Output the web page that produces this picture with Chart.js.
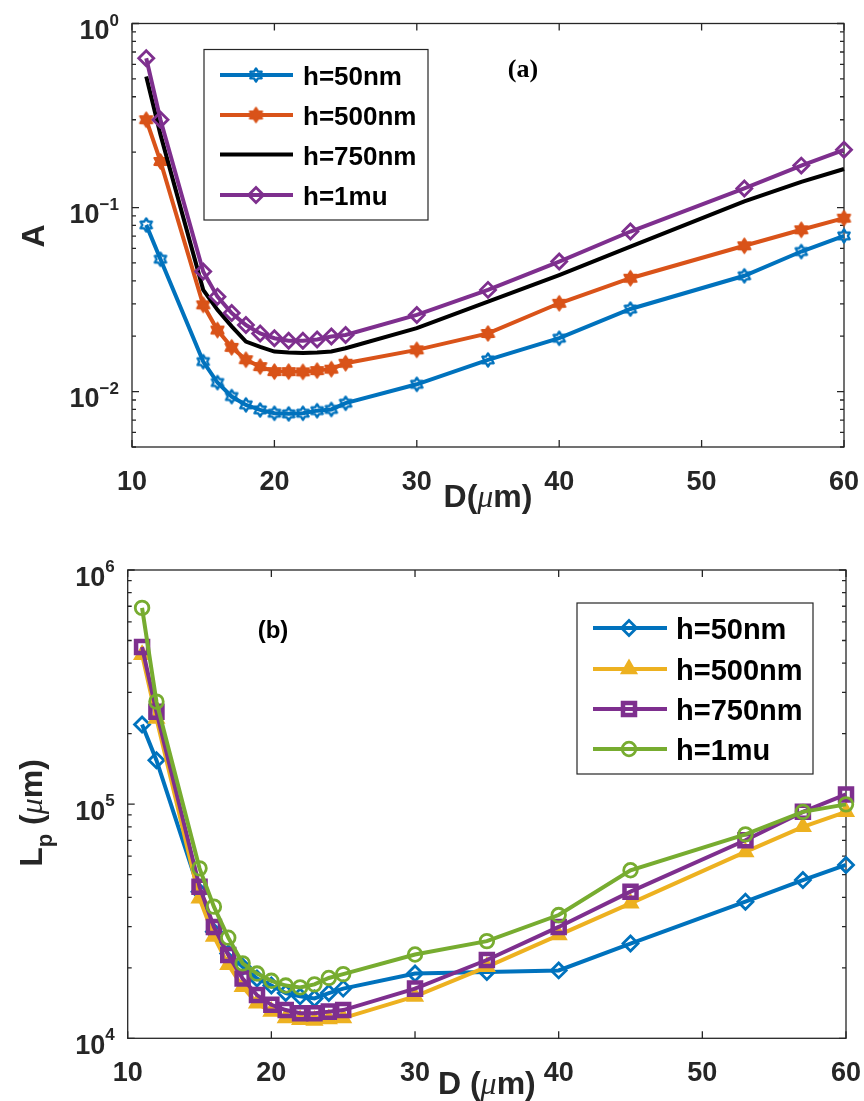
<!DOCTYPE html>
<html>
<head>
<meta charset="utf-8">
<script src="https://cdn.jsdelivr.net/npm/chart.js"></script>
<style>
  html, body { margin: 0; padding: 0; background: #ffffff; }
  #wrap { position: relative; width: 864px; height: 1101px; overflow: hidden; background: #ffffff; }
  canvas { position: absolute; left: 0; }
  #chartA { top: 0; }
  #chartB { top: 545px; }
</style>
</head>
<body>
<div id="wrap">
  <canvas id="chartA" width="864" height="545" style="width:864px;height:545px"></canvas>
  <canvas id="chartB" width="864" height="556" style="width:864px;height:556px"></canvas>
</div>
<script>
// Fibre diameter D (µm), shared by both panels
const diameters = [11, 12, 15, 16, 17, 18, 19, 20, 21, 22, 23, 24, 25, 30, 35, 40, 45, 53, 57, 60];
const xTickValues = [10, 20, 30, 40, 50, 60];

// Panel (a): A versus D
const aLabels = ['h=50nm', 'h=500nm', 'h=750nm', 'h=1mu'];
const aH50   = [0.0805, 0.0524, 0.01456, 0.0112, 0.0094, 0.00847, 0.00795, 0.00763, 0.00757, 0.00763, 0.00788, 0.0080, 0.00865, 0.01096, 0.01486, 0.0195, 0.0281, 0.0426, 0.0577, 0.0702];
const aH500  = [0.300, 0.178, 0.0296, 0.0216, 0.0174, 0.0149, 0.01367, 0.01284, 0.01284, 0.0128, 0.0130, 0.01324, 0.01426, 0.01686, 0.0207, 0.0302, 0.0413, 0.062, 0.0757, 0.0876];
const aH750  = [0.515, 0.249, 0.0357, 0.0278, 0.0226, 0.0187, 0.0175, 0.0165, 0.0163, 0.0162, 0.0163, 0.0165, 0.0172, 0.0221, 0.0308, 0.043, 0.0614, 0.108, 0.138, 0.162];
const aH1000 = [0.648, 0.30, 0.0449, 0.0328, 0.0267, 0.0230, 0.0207, 0.0195, 0.0189, 0.0189, 0.0192, 0.0199, 0.0203, 0.0261, 0.0357, 0.0509, 0.0741, 0.127, 0.169, 0.206];
const aYExponents = [-2, -1, 0];

// Panel (b): Lp (µm) versus D
const bLabels = ['h=50nm', 'h=500nm', 'h=750nm', 'h=1mu'];
const bH50   = [2.19e5, 1.54e5, 4.23e4, 2.85e4, 2.30e4, 2.02e4, 1.80e4, 1.68e4, 1.56e4, 1.51e4, 1.48e4, 1.56e4, 1.63e4, 1.89e4, 1.92e4, 1.95e4, 2.54e4, 3.83e4, 4.74e4, 5.50e4];
const bH500  = [4.35e5, 2.32e5, 3.96e4, 2.72e4, 2.06e4, 1.66e4, 1.41e4, 1.30e4, 1.22e4, 1.20e4, 1.19e4, 1.21e4, 1.22e4, 1.51e4, 2.02e4, 2.76e4, 3.77e4, 6.25e4, 8.00e4, 9.27e4];
const bH750  = [4.69e5, 2.48e5, 4.44e4, 2.99e4, 2.27e4, 1.80e4, 1.53e4, 1.39e4, 1.32e4, 1.28e4, 1.28e4, 1.30e4, 1.32e4, 1.63e4, 2.16e4, 2.99e4, 4.23e4, 7.01e4, 9.27e4, 1.10e5];
const bH1000 = [6.89e5, 2.74e5, 5.32e4, 3.65e4, 2.69e4, 2.09e4, 1.89e4, 1.76e4, 1.68e4, 1.65e4, 1.70e4, 1.81e4, 1.88e4, 2.28e4, 2.60e4, 3.36e4, 5.22e4, 7.43e4, 9.27e4, 9.98e4];
const bYExponents = [4, 5, 6];

// ---------------------------------------------------------------
const SANS = '"Liberation Sans", Arial, Helvetica, sans-serif';
const SERIF = '"Liberation Serif", "Times New Roman", serif';
const AXIS_COLOR = '#262626';
const C_BLUE = '#0072BD', C_ORANGE = '#D95319', C_YELLOW = '#EDB120',
      C_PURPLE = '#7E2F8E', C_GREEN = '#77AC30', C_BLACK = '#000000';

function pairs(ys) { return diameters.map((d, i) => ({ x: d, y: ys[i] })); }

// six-pointed star marker drawn into a small canvas
function hexagram(color, r, filled, lw) {
  const s = Math.ceil(2 * r + lw + 2);
  const c = document.createElement('canvas');
  c.width = s; c.height = s;
  const g = c.getContext('2d');
  const cx = s / 2;
  g.beginPath();
  for (let i = 0; i < 12; i++) {
    const ang = -Math.PI / 2 + i * Math.PI / 6;
    const rr = (i % 2 === 0) ? r : r * 0.6;
    g.lineTo(cx + rr * Math.cos(ang), cx + rr * Math.sin(ang));
  }
  g.closePath();
  g.lineJoin = 'round';
  if (filled) { g.fillStyle = color; g.fill(); }
  g.lineWidth = lw; g.strokeStyle = color; g.stroke();
  return c;
}

function series(label, ys, color, marker, order) {
  return Object.assign({
    label: label,
    data: pairs(ys),
    borderColor: color,
    backgroundColor: 'rgba(0,0,0,0)',
    borderWidth: 4,
    tension: 0,
    pointBorderColor: color,
    pointBackgroundColor: 'rgba(0,0,0,0)',
    clip: false,
    order: order
  }, marker);
}

const mkA = [
  { pointStyle: hexagram(C_BLUE, 6.5, false, 2.4), pointRadius: 6 },
  { pointStyle: hexagram(C_ORANGE, 7, true, 2.2), pointRadius: 6 },
  { pointRadius: 0, pointStyle: false },
  { pointStyle: 'rectRot', pointRadius: 7.5, pointBorderWidth: 2.8 }
];
const mkB = [
  { pointStyle: 'rectRot', pointRadius: 7.5, pointBorderWidth: 2.8 },
  { pointStyle: 'triangle', pointRadius: 7.5, pointBorderWidth: 3, pointBackgroundColor: C_YELLOW },
  { pointStyle: 'rect', pointRadius: 8.5, pointBorderWidth: 4.5 },
  { pointStyle: 'circle', pointRadius: 6.8, pointBorderWidth: 2.8 }
];

// ---- drawing helpers -------------------------------------------------
function drawRuns(ctx, runs, cx, baseY) {
  // runs: [{t, font, dy}] laid out left to right, centred on cx
  let total = 0;
  runs.forEach(r => { ctx.font = r.font; r.w = ctx.measureText(r.t).width; total += r.w; });
  let x = cx - total / 2;
  ctx.textAlign = 'left';
  ctx.textBaseline = 'alphabetic';
  runs.forEach(r => { ctx.font = r.font; ctx.fillText(r.t, x, baseY + (r.dy || 0)); x += r.w; });
}

function drawMarker(ctx, mk, color, x, y) {
  if (!mk || mk.pointStyle === false || !mk.pointRadius) return;
  ctx.save();
  ctx.strokeStyle = color;
  ctx.fillStyle = mk.pointBackgroundColor || 'rgba(0,0,0,0)';
  ctx.lineWidth = mk.pointBorderWidth || 1;
  if (Chart.helpers && Chart.helpers.drawPoint) {
    Chart.helpers.drawPoint(ctx, { pointStyle: mk.pointStyle, rotation: 0, radius: mk.pointRadius, borderWidth: ctx.lineWidth }, x, y);
  } else if (mk.pointStyle instanceof HTMLCanvasElement) {
    ctx.drawImage(mk.pointStyle, x - mk.pointStyle.width / 2, y - mk.pointStyle.height / 2);
  }
  ctx.restore();
}

function framePlugin(spec) {
  return {
    id: 'frame' + spec.id,
    beforeDatasetsDraw(chart) {
      const ctx = chart.ctx, a = chart.chartArea;
      const xs = chart.scales.x, ys = chart.scales.y;
      ctx.save();
      ctx.strokeStyle = AXIS_COLOR;
      ctx.lineWidth = 1.3;
      ctx.strokeRect(a.left, a.top, a.right - a.left, a.bottom - a.top);
      ctx.beginPath();
      // x ticks, inward on bottom and top
      xTickValues.forEach(v => {
        const px = xs.getPixelForValue(v);
        ctx.moveTo(px, a.bottom); ctx.lineTo(px, a.bottom - 7);
        ctx.moveTo(px, a.top); ctx.lineTo(px, a.top + 7);
      });
      // y ticks, decades long and intermediate values short, both sides
      const e0 = Math.floor(Math.log10(ys.min)), e1 = Math.ceil(Math.log10(ys.max));
      for (let e = e0; e <= e1; e++) {
        for (let k = 1; k <= 9; k++) {
          const v = k * Math.pow(10, e);
          if (v < ys.min * 0.999 || v > ys.max * 1.001) continue;
          const py = ys.getPixelForValue(v);
          const len = k === 1 ? 7 : 4;
          ctx.moveTo(a.left, py); ctx.lineTo(a.left + len, py);
          ctx.moveTo(a.right, py); ctx.lineTo(a.right - len, py);
        }
      }
      ctx.stroke();
      ctx.restore();
    },
    afterDraw(chart) {
      const ctx = chart.ctx, a = chart.chartArea;
      const xs = chart.scales.x, ys = chart.scales.y;
      ctx.save();
      ctx.fillStyle = AXIS_COLOR;
      // x tick labels
      ctx.font = 'bold 27px ' + SANS;
      ctx.textAlign = 'center';
      ctx.textBaseline = 'alphabetic';
      xTickValues.forEach(v => ctx.fillText(String(v), xs.getPixelForValue(v), a.bottom + 43));
      // y tick labels as powers of ten
      spec.yExps.forEach(e => {
        const py = ys.getPixelForValue(Math.pow(10, e));
        const sup = e < 0 ? '\u2212' + (-e) : String(e);
        const right = a.left - 13;
        ctx.font = 'bold 17px ' + SANS;
        const sw = ctx.measureText(sup).width;
        ctx.font = 'bold 27px ' + SANS;
        const bw = ctx.measureText('10').width;
        ctx.textAlign = 'left';
        ctx.fillText('10', right - sw - bw, py + 15.5);
        ctx.font = 'bold 17px ' + SANS;
        ctx.fillText(sup, right - sw, py + 2);
      });
      // axis titles
      const cx = (a.left + a.right) / 2;
      drawRuns(ctx, spec.xTitle, cx, spec.xTitleY);
      ctx.save();
      ctx.translate(spec.yTitleX, spec.yTitleCY);
      ctx.rotate(-Math.PI / 2);
      drawRuns(ctx, spec.yTitle, 0, 0);
      ctx.restore();
      // panel tag
      ctx.fillStyle = '#000000';
      ctx.font = spec.tag.font;
      ctx.textAlign = 'center';
      ctx.fillText(spec.tag.t, spec.tag.x, spec.tag.y);
      // legend
      const L = spec.legend;
      ctx.fillStyle = '#ffffff';
      ctx.fillRect(L.x, L.y, L.w, L.h);
      ctx.strokeStyle = AXIS_COLOR;
      ctx.lineWidth = 1.2;
      ctx.strokeRect(L.x, L.y, L.w, L.h);
      chart.data.datasets.forEach((ds, i) => {
        const ry = L.rows[i];
        ctx.strokeStyle = ds.borderColor;
        ctx.lineWidth = ds.borderWidth;
        ctx.beginPath();
        ctx.moveTo(L.lx0, ry); ctx.lineTo(L.lx1, ry);
        ctx.stroke();
        drawMarker(ctx, spec.markers[i], ds.borderColor, L.mx, ry);
        ctx.fillStyle = '#000000';
        ctx.font = L.font;
        ctx.textAlign = 'left';
        ctx.textBaseline = 'alphabetic';
        ctx.fillText(ds.label, L.tx, ry + L.tdy);
      });
      ctx.restore();
    }
  };
}

function buildChart(canvasId, spec, datasets) {
  return new Chart(document.getElementById(canvasId), {
    type: 'line',
    data: { datasets: datasets },
    options: {
      responsive: false,
      animation: false,
      devicePixelRatio: 1,
      events: [],
      layout: { padding: { left: 0, top: spec.padTop, right: spec.padRight, bottom: 0 } },
      plugins: { legend: { display: false }, tooltip: { enabled: false } },
      scales: {
        x: {
          type: 'linear', min: 10, max: 60,
          ticks: { display: false }, grid: { display: false }, border: { display: false },
          afterFit(s) { s.height = spec.xAxisH; }
        },
        y: {
          type: 'logarithmic', min: spec.ymin, max: spec.ymax,
          ticks: { display: false }, grid: { display: false }, border: { display: false },
          afterFit(s) { s.width = spec.left; }
        }
      }
    },
    plugins: [framePlugin(spec)]
  });
}

const BOLD32 = 'bold 32px ' + SANS;
const MU32 = 'italic 32px ' + SERIF;

const specA = {
  id: 'A', padTop: 23.5, padRight: 20, left: 132, xAxisH: 98,
  ymin: 0.005, ymax: 1, yExps: aYExponents,
  xTitle: [{ t: 'D(', font: BOLD32 }, { t: '\u03BC', font: MU32 }, { t: 'm)', font: BOLD32 }],
  xTitleY: 507,
  yTitle: [{ t: 'A', font: BOLD32 }],
  yTitleX: 44, yTitleCY: 236,
  tag: { t: '(a)', font: 'bold 26px ' + SERIF, x: 523, y: 77 },
  legend: { x: 204, y: 49.5, w: 224, h: 170.5, rows: [75, 115, 154.5, 195], lx0: 220, lx1: 293, mx: 256, tx: 303, tdy: 10, font: 'bold 26px ' + SANS },
  markers: mkA
};

const specB = {
  id: 'B', padTop: 25, padRight: 18, left: 127.7, xAxisH: 62.7,
  ymin: 1e4, ymax: 1e6, yExps: bYExponents,
  xTitle: [{ t: 'D (', font: BOLD32 }, { t: '\u03BC', font: MU32 }, { t: 'm)', font: BOLD32 }],
  xTitleY: 549,
  yTitle: [{ t: 'L', font: BOLD32 }, { t: 'p', font: 'bold 22px ' + SANS, dy: 10 }, { t: ' (', font: BOLD32 }, { t: '\u03BC', font: MU32 }, { t: 'm)', font: BOLD32 }],
  yTitleX: 42, yTitleCY: 268,
  tag: { t: '(b)', font: 'bold 24px ' + SANS, x: 273, y: 93 },
  legend: { x: 577, y: 58, w: 236, h: 171, rows: [83, 124, 164, 204], lx0: 593, lx1: 667, mx: 629, tx: 676, tdy: 11, font: 'bold 29px ' + SANS },
  markers: mkB
};

// later series are drawn over earlier ones
buildChart('chartA', specA, [
  series(aLabels[0], aH50, C_BLUE, mkA[0], 4),
  series(aLabels[1], aH500, C_ORANGE, mkA[1], 3),
  series(aLabels[2], aH750, C_BLACK, mkA[2], 2),
  series(aLabels[3], aH1000, C_PURPLE, mkA[3], 1)
]);

buildChart('chartB', specB, [
  series(bLabels[0], bH50, C_BLUE, mkB[0], 4),
  series(bLabels[1], bH500, C_YELLOW, mkB[1], 3),
  series(bLabels[2], bH750, C_PURPLE, mkB[2], 2),
  series(bLabels[3], bH1000, C_GREEN, mkB[3], 1)
]);
</script>
</body>
</html>
